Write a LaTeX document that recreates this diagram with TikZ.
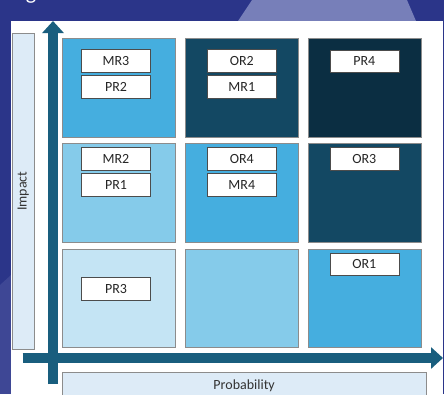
\documentclass[tikz,border=0pt]{standalone}
\usepackage{fontspec}
\setmainfont{Carlito}
\usepackage{tikz}
\usetikzlibrary{matrix, arrows.meta}

\definecolor{backblue}{HTML}{2B3589}
\definecolor{hazeblue}{HTML}{8A92C6}
\definecolor{axisblue}{HTML}{195E7E}
\definecolor{lowblue}{HTML}{C4E4F4}
\definecolor{lightblue}{HTML}{85CBEA}
\definecolor{midblue}{HTML}{45AEDF}
\definecolor{darkblue}{HTML}{134863}
\definecolor{deepblue}{HTML}{0B2E42}
\definecolor{boxblue}{HTML}{DDEBF7}

\tikzset{
  tag/.style={draw=black!70, fill=white, minimum width=51.75pt, minimum height=16.9pt,
    inner sep=0pt, font=\fontsize{10.5}{12}\selectfont, text=black!85},
  axisbox/.style={draw=black!45, fill=boxblue, inner sep=0pt,
    font=\fontsize{10.5}{12}\selectfont, text=black!80},
  axis/.style={line width=7.5pt, draw=axisblue, -{Triangle[width=15.75pt, length=9pt]}}
}

\begin{document}
\begin{tikzpicture}[x=0.75pt, y=-0.75pt]
  \useasboundingbox (0,0) rectangle (444,394);
  \clip (0,0) rectangle (444,394);

  % background photo and white slide panel
  \fill[backblue] (0,0) rectangle (444,394);
  \fill[hazeblue, opacity=0.8] (252,0) -- (407,0) -- (416,21) -- (238,21) -- cycle;
  \fill[hazeblue, opacity=0.2] (0,285) -- (11,275) -- (11,394) -- (0,394) -- cycle;
  \node[anchor=south, text=white, font=\fontsize{16.5}{20}\selectfont,
    inner sep=0pt] (title) at (31,3.5) {g};
  \fill[white] (11,21) rectangle (443,394);

  \matrix(grid)[matrix of nodes, nodes in empty cells,
      nodes={draw=black!45, minimum width=85.1pt, minimum height=73.9pt, inner sep=0pt},
      column sep=6.75pt, row sep=4.5pt, inner sep=0pt] at (241.65,193)
  {
      |[fill=midblue]| & |[fill=darkblue]| & |[fill=deepblue]| \\
      |[fill=lightblue]| & |[fill=midblue]| & |[fill=darkblue]| \\
      |[fill=lowblue]| & |[fill=lightblue]| & |[fill=midblue]| \\
  };

  % risks
  \node[tag] (MR3) at (116,61) {MR3};
  \node[tag] (PR2) at (116,86.8) {PR2};
  \node[tag] (OR2) at (241.8,61) {OR2};
  \node[tag] (MR1) at (241.8,86.8) {MR1};
  \node[tag] (PR4) at (364.3,61.3) {PR4};
  \node[tag] (MR2) at (116,158.7) {MR2};
  \node[tag] (PR1) at (116,184.7) {PR1};
  \node[tag] (OR4) at (241.8,158.7) {OR4};
  \node[tag] (MR4) at (241.8,184.7) {MR4};
  \node[tag] (OR3) at (364.3,158.7) {OR3};
  \node[tag] (OR1) at (364.3,264.3) {OR1};
  \node[tag] (PR3) at (116,288.7) {PR3};

  % axes
  \node[axisbox, rotate=90, minimum width=236.8pt, minimum height=16.5pt]
    (impact) at (23.3,191.2) {Impact};
  \node[axisbox, minimum width=272.8pt, minimum height=19.5pt]
    (probability) at (244.15,385.7) {Probability};

  \coordinate (yfoot) at (53,384);
  \coordinate (ytip) at (53,21);
  \coordinate (xfoot) at (22.7,358);
  \coordinate (xtip) at (443,358);
  \draw[axis] (yfoot) -- (ytip);
  \draw[axis] (xfoot) -- (xtip);
\end{tikzpicture}
\end{document}
